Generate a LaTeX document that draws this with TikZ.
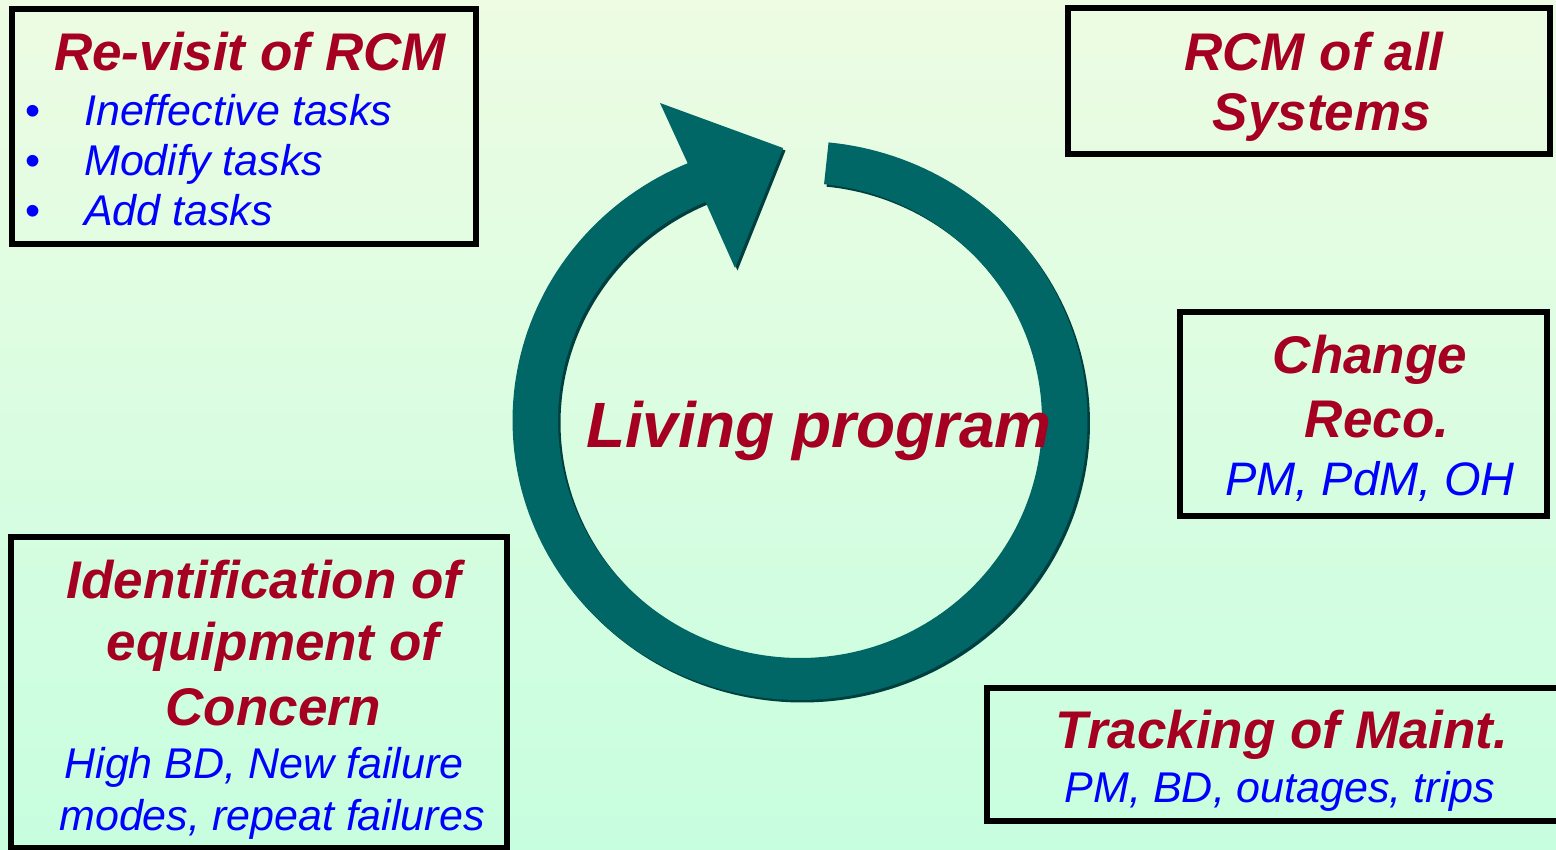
\documentclass[tikz,border=0pt]{standalone}
\usepackage{fontspec}
\setmainfont{Liberation Sans}
\definecolor{bgtop}{HTML}{EDFCE3}
\definecolor{bgbot}{HTML}{C7FEDF}
\definecolor{ringteal}{HTML}{006666}
\definecolor{ringshade}{HTML}{003F3F}
\definecolor{titlered}{HTML}{A50021}
\definecolor{itemblue}{HTML}{0000FF}
\begin{document}
\begin{tikzpicture}[x=1pt,y=-1pt,
  frame/.style={draw=black,line width=6pt},
  head/.style={inner sep=0pt,anchor=base,text=titlered,
    font=\fontsize{53}{60}\selectfont\bfseries\itshape},
  sub/.style={inner sep=0pt,anchor=base,text=itemblue,
    font=\fontsize{43}{50}\selectfont\itshape},
  bigtitle/.style={inner sep=0pt,anchor=base,text=titlered,
    font=\fontsize{64}{70}\selectfont\bfseries\itshape},
  bulletmark/.style={inner sep=0pt,anchor=base,text=itemblue,
    font=\fontsize{43}{50}\selectfont}]
\useasboundingbox (0,0) rectangle (1556,849);
\shade[top color=bgtop,bottom color=bgbot] (0,0) rectangle (1556,849);

% circular arrow with a slight drop shadow
\fill[ringteal,preaction={fill=ringshade,transform canvas={shift={(2.5pt,-2.5pt)}}}]
  plot[domain=84.3:-247,samples=200] ({800+287.5*cos(\x)},{420.5-279.5*sin(\x)})
  -- (660,103) -- (783,148) -- (735,268)
  -- plot[domain=-247:84.3,samples=200] ({800+242*cos(\x)},{420.5-237.5*sin(\x)})
  -- cycle;

\node[bigtitle] (living) at (819,447) {Living program};

% frames
\draw[frame] (12,9) rectangle (476,244);
\draw[frame] (1068,8) rectangle (1550,154);
\draw[frame] (1180,312) rectangle (1547,516);
\draw[frame] (11,537) rectangle (507,848);
\draw[frame] (987,688) rectangle (1570,821);

% Re-visit of RCM
\node[head] (revisit) at (250,70) {Re-visit of RCM};
\node[bulletmark] (b1) at (33,125) {•};
\node[bulletmark] (b2) at (33,175) {•};
\node[bulletmark] (b3) at (33,225) {•};
\node[sub,anchor=base west] (t1) at (84,125) {Ineffective tasks};
\node[sub,anchor=base west] (t2) at (84,175) {Modify tasks};
\node[sub,anchor=base west] (t3) at (84,225) {Add tasks};

% RCM of all Systems
\node[head] (rcm1) at (1314,70) {RCM of all};
\node[head] (rcm2) at (1322,130) {Systems};

% Change Reco.
\node[head] (chg1) at (1370,373) {Change};
\node[head] (chg2) at (1377,437) {Reco.};
\node[sub,font=\fontsize{47}{50}\selectfont\itshape] (chg3) at (1370,495) {PM, PdM, OH};

% Identification of equipment of Concern
\node[head] (id1) at (264,598) {Identification of};
\node[head] (id2) at (273,660) {equipment of};
\node[head] (id3) at (273,725) {Concern};
\node[sub] (id4) at (264,778) {High BD, New failure};
\node[sub] (id5) at (272,830) {modes, repeat failures};

% Tracking of Maint.
\node[head] (trk1) at (1282,748) {Tracking of Maint.};
\node[sub] (trk2) at (1280,802) {PM, BD, outages, trips};
\end{tikzpicture}
\end{document}
